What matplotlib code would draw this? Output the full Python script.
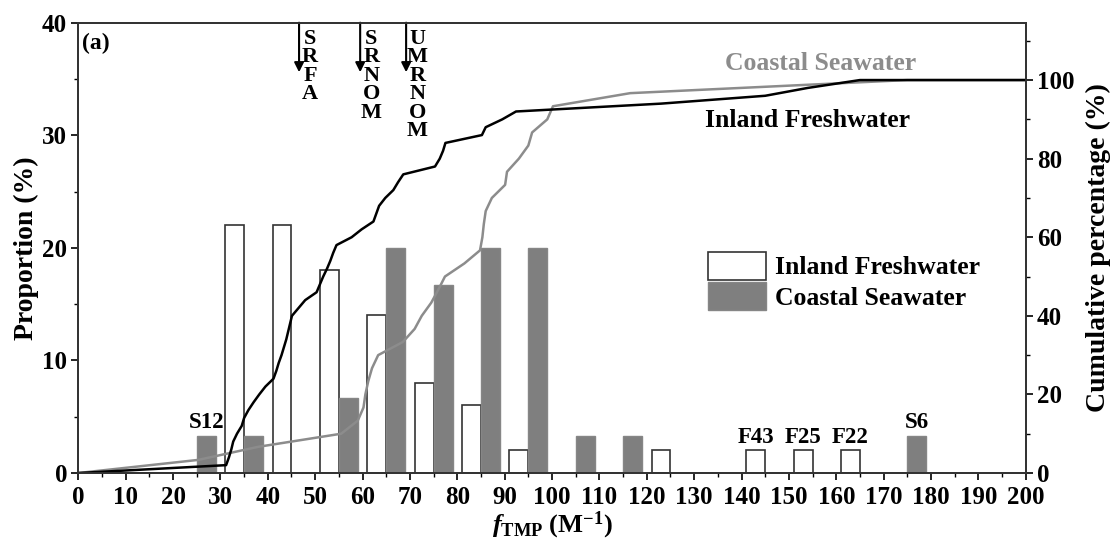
import numpy as np
from matplotlib import pyplot as plt
from matplotlib.ticker import MultipleLocator
from matplotlib.patches import Patch

plt.rcParams['font.family'] = ['Liberation Serif', 'DejaVu Serif']
plt.rcParams['font.weight'] = 'bold'
plt.rcParams['mathtext.fontset'] = 'custom'
plt.rcParams['mathtext.rm'] = 'Liberation Serif:bold'
plt.rcParams['mathtext.it'] = 'Liberation Serif:italic:bold'
plt.rcParams['mathtext.bf'] = 'Liberation Serif:bold'

# histogram bins (left edge, width 10)
bin_left = np.arange(0, 200, 10)
inland_prop = [0, 0, 0, 22, 22, 18, 14, 8, 6, 2, 0, 0, 2, 0, 2, 2, 2, 0, 0, 0]
coastal_prop = [0, 0, 3.33, 3.33, 0, 6.67, 20, 16.67, 20, 20,
                3.33, 3.33, 0, 0, 0, 0, 0, 3.33, 0, 0]

# sorted sample values for the cumulative curves
inland_samples = [31.2, 31.8, 32.3, 32.7, 33.5, 34.5, 35.0, 35.9, 37.0, 38.2, 39.5,
                  41.2, 41.8, 42.3, 42.9, 43.4, 43.9, 44.3, 44.7, 45.1, 46.5, 47.9,
                  50.3, 51.0, 51.7, 52.5, 53.2, 53.8, 54.5, 57.7, 59.8,
                  62.3, 62.9, 63.5, 64.8, 66.5, 67.5, 68.6,
                  75.3, 76.3, 77.0, 77.5,
                  85.2, 86.0, 89.5,
                  92.4, 123.0, 145.0, 154.0, 165.0]
coastal_samples = [25.3, 38.0, 55.5, 59.0,
                   60.2, 60.6, 61.2, 62.0, 63.3, 68.5,
                   71.0, 72.5, 74.5, 76.0, 77.4,
                   81.5, 84.8, 85.3, 85.6, 86.0, 87.3,
                   90.1, 90.5, 93.0, 95.0, 95.8, 99.0,
                   100.2, 116.5, 175.0]

# labelled single samples: (label, series, bin left edge)
bar_labels = [('S12', 'coastal', 20), ('F43', 'inland', 140), ('F25', 'inland', 150),
              ('F22', 'inland', 160), ('S6', 'coastal', 170)]

# reference materials marked at the top
ref_names = ['SRFA', 'SRNOM', 'UMRNOM']
ref_values = [46.6, 59.5, 69.2]


def cumulative(samples):
    n = len(samples)
    x = [0] + list(samples) + [200]
    y = [0] + [100 * (i + 1) / n for i in range(n)] + [100]
    return x, y


fig = plt.figure(figsize=(11.17, 5.44), dpi=100)
ax = fig.add_axes([0.0701, 0.1305, 0.8482, 0.8278])
ax2 = ax.twinx()

ax.bar(bin_left + 3, inland_prop, width=4, facecolor='white', edgecolor='#333333', linewidth=1.2)
ax.bar(bin_left + 7, coastal_prop, width=4, facecolor='#7f7f7f', edgecolor='#868686', linewidth=1.0)

for name, series, left in bar_labels:
    if series == 'inland':
        xc, h = left + 3, inland_prop[left // 10]
    else:
        xc, h = left + 7, coastal_prop[left // 10]
    ax.annotate(name, (xc, h), xytext=(0, 2), textcoords='offset points',
                ha='center', va='bottom', fontsize=16.5, fontweight='bold')

xi, yi = cumulative(inland_samples)
xc_, yc_ = cumulative(coastal_samples)
ax2.plot(xc_, yc_, color='#8c8c8c', linewidth=1.8)
ax2.plot(xi, yi, color='black', linewidth=1.8)

ax.set_xlim(0, 200)
ax.set_ylim(0, 40)
ax2.set_ylim(0, 114.6)

ax.xaxis.set_major_locator(MultipleLocator(10))
ax.xaxis.set_minor_locator(MultipleLocator(5))
ax.yaxis.set_major_locator(MultipleLocator(10))
ax.yaxis.set_minor_locator(MultipleLocator(5))
ax2.set_yticks([0, 20, 40, 60, 80, 100])
ax2.yaxis.set_minor_locator(MultipleLocator(10))

for a in (ax, ax2):
    a.tick_params(which='major', direction='out', length=5, width=1.2, labelsize=18, pad=3)
    a.tick_params(which='minor', direction='out', length=3, width=1.0)
    for s in a.spines.values():
        s.set_linewidth(1.3)
        s.set_color('#333333')
ax.tick_params(axis='x', pad=4)

ax.set_ylabel('Proportion (%)', fontsize=20, fontweight='bold', labelpad=2)
ax2.set_ylabel('Cumulative percentage (%)', fontsize=20, fontweight='bold', labelpad=8)
ax.set_xlabel(r'$f_{\mathrm{TMP}}$ (M$^{\mathrm{-1}}$)', fontsize=19, fontweight='bold', labelpad=1)

ax.text(0.004, 0.978, '(a)', transform=ax.transAxes, fontsize=17, fontweight='bold',
        ha='left', va='top')

for name, val in zip(ref_names, ref_values):
    ax.annotate('', xy=(val, 35.6), xytext=(val, 40),
                arrowprops=dict(arrowstyle='-|>', color='black', lw=1.5,
                                mutation_scale=14, shrinkA=0, shrinkB=0))
    ax.annotate('\n'.join(name), (val, 39.45), xytext=(8, 0), textcoords='offset points',
                ha='center', va='top', fontsize=16, fontweight='bold', linespacing=0.9)

ax2.text(156.6, 104.3, 'Coastal Seawater', color='#8c8c8c', fontsize=18.5,
         fontweight='bold', ha='center', va='center')
ax2.text(154.0, 89.6, 'Inland Freshwater', color='black', fontsize=18.5,
         fontweight='bold', ha='center', va='center')

handles = [Patch(facecolor='white', edgecolor='#333333', linewidth=1.2, label='Inland Freshwater'),
           Patch(facecolor='#7f7f7f', edgecolor='#868686', label='Coastal Seawater')]
ax.legend(handles=handles, loc='upper left', bbox_to_anchor=(0.654, 0.514), frameon=False,
          fontsize=18.5, handlelength=2.25, handleheight=1.3, handletextpad=0.35,
          labelspacing=0.1, borderaxespad=0)

fig.savefig('out.png', dpi=100)
